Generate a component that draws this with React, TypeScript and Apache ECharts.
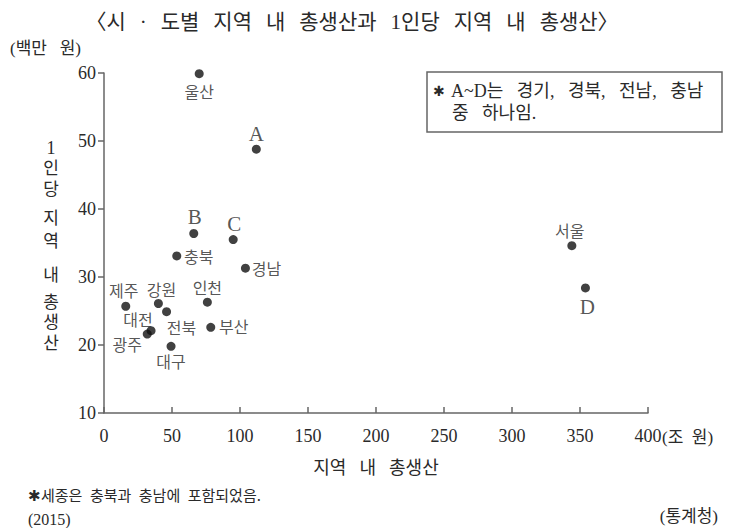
import React, { useEffect, useRef } from "react";
import * as echarts from "echarts";

const names = ["울산", "A", "B", "C", "충북", "경남", "서울", "D", "제주", "강원", "인천", "전북", "대전", "부산", "광주", "대구"];
const grdp = [70, 112, 66, 95, 53.5, 104, 344, 354, 16, 40, 76, 46, 34.6, 78.5, 31.8, 49.3];
const perCapita = [59.9, 48.8, 36.4, 35.5, 33.1, 31.3, 34.6, 28.4, 25.7, 26.1, 26.3, 24.9, 22.1, 22.6, 21.6, 19.8];
const xTicks = [0, 50, 100, 150, 200, 250, 300, 350, 400];
const yTicks = [10, 20, 30, 40, 50, 60];

// label placement (layout only): offset of label centre from its dot, in px
const labelOffset: Record<string, [number, number]> = {
  울산: [0, 17],
  A: [0, -15],
  B: [1, -16],
  C: [1, -16],
  충북: [22, 0],
  경남: [21, 0],
  서울: [-2, -16],
  D: [2, 19],
  제주: [-2, -16],
  강원: [3, -15],
  인천: [0, -15],
  전북: [15, 15],
  대전: [-13, -12],
  부산: [23, -1],
  광주: [-20, 10],
  대구: [0, 15],
};

const SERIF = "'Liberation Serif', 'Noto Sans CJK KR', serif";
const KR = "'Noto Sans CJK KR', sans-serif";
const INK = "#2a2a2a";
const AXIS = "#666";
const SP = "\u2002 ";
const wide = (s: string) => s.split(" ").join(SP);
const TSP = "\u2002\u2006";

const yNameChars = [
  { ch: "1", y: 148 },
  { ch: "인", y: 166 },
  { ch: "당", y: 187 },
  { ch: "지", y: 216 },
  { ch: "역", y: 239 },
  { ch: "내", y: 273 },
  { ch: "총", y: 300 },
  { ch: "생", y: 320 },
  { ch: "산", y: 341 },
];

export default function App() {
  const ref = useRef<HTMLDivElement>(null);
  useEffect(() => {
    if (!ref.current) return;
    const chart = echarts.init(ref.current, null, { renderer: "svg" });
    const data = names.map((n, i) => {
      const isLetter = /^[A-D]$/.test(n);
      return {
        value: [grdp[i], perCapita[i]],
        name: n,
        label: {
          show: true,
          formatter: n,
          position: ["50%", "50%"],
          offset: labelOffset[n],
          align: "center",
          verticalAlign: "middle",
          color: INK,
          fontFamily: isLetter ? SERIF : KR,
          fontSize: isLetter ? 21 : 16,
        },
      };
    });
    chart.setOption({
      animation: false,
      backgroundColor: "#fff",
      grid: { left: 104, right: 96, top: 73, bottom: 115, containLabel: false },
      xAxis: {
        type: "value",
        min: xTicks[0],
        max: xTicks[xTicks.length - 1],
        interval: 50,
        axisLine: { show: true, onZero: false, lineStyle: { color: AXIS, width: 1.5 } },
        axisTick: { show: true, inside: true, length: 6, lineStyle: { color: AXIS, width: 1.5 } },
        axisLabel: { color: INK, fontFamily: SERIF, fontSize: 18, margin: 14 },
        splitLine: { show: false },
      },
      yAxis: {
        type: "value",
        min: yTicks[0],
        max: yTicks[yTicks.length - 1],
        interval: 10,
        axisLine: { show: true, onZero: false, lineStyle: { color: AXIS, width: 1.5 } },
        axisTick: { show: true, inside: false, length: 6, lineStyle: { color: AXIS, width: 1.5 } },
        axisLabel: { color: INK, fontFamily: SERIF, fontSize: 18, margin: 8 },
        splitLine: { show: false },
      },
      series: [
        {
          type: "scatter",
          symbolSize: 9,
          itemStyle: { color: "#111" },
          data,
        },
      ],
      graphic: [
        {
          type: "text",
          x: 352,
          y: 22,
          style: {
            text: ["〈시", "·", "도별", "지역", "내", "총생산과", "1인당", "지역", "내", "총생산〉"].join(TSP),
            fill: INK,
            font: `21px ${SERIF}`,
            textAlign: "center",
            textVerticalAlign: "middle",
          },
        },
        {
          type: "text",
          x: 10,
          y: 48,
          style: { text: wide("(백만 원)"), fill: INK, font: `17px ${SERIF}`, textVerticalAlign: "middle" },
        },
        ...yNameChars.map((c) => ({
          type: "text",
          x: 51,
          y: c.y,
          style: {
            text: c.ch,
            fill: INK,
            font: c.ch === "1" ? `18px ${SERIF}` : `17px ${KR}`,
            textAlign: "center",
            textVerticalAlign: "middle",
          },
        })),
        {
          type: "text",
          x: 662,
          y: 437,
          style: { text: "(조\u2002원)", fill: INK, font: `17px ${SERIF}`, textVerticalAlign: "middle" },
        },
        {
          type: "text",
          x: 376,
          y: 466,
          style: { text: wide("지역 내 총생산"), fill: INK, font: `18px ${KR}`, textAlign: "center", textVerticalAlign: "middle" },
        },
        {
          type: "text",
          x: 28,
          y: 494,
          style: { text: "✱" + "세종은\u2002충북과\u2002충남에\u2002포함되었음.", fill: INK, font: `15px ${KR}`, textVerticalAlign: "middle" },
        },
        {
          type: "text",
          x: 28,
          y: 519,
          style: { text: "(2015)", fill: INK, font: `16px ${SERIF}`, textVerticalAlign: "middle" },
        },
        {
          type: "text",
          x: 718,
          y: 516,
          style: { text: "(통계청)", fill: INK, font: `17px ${SERIF}`, textAlign: "right", textVerticalAlign: "middle" },
        },
        {
          type: "rect",
          shape: { x: 427, y: 72, width: 295, height: 60 },
          style: { fill: "#fff", stroke: AXIS, lineWidth: 1.5 },
        },
        {
          type: "text",
          x: 433,
          y: 91,
          style: { text: "✱", fill: INK, font: `14px 'DejaVu Sans'`, textVerticalAlign: "middle" },
        },
        {
          type: "text",
          x: 451,
          y: 91,
          style: { text: wide("A~D는 경기, 경북, 전남, 충남"), fill: INK, font: `18px ${SERIF}`, textVerticalAlign: "middle" },
        },
        {
          type: "text",
          x: 452,
          y: 113,
          style: { text: wide("중 하나임."), fill: INK, font: `18px ${SERIF}`, textVerticalAlign: "middle" },
        },
      ],
    });
    return () => chart.dispose();
  }, []);
  return <div ref={ref} style={{ position: "absolute", left: 0, top: 0, width: 744, height: 528 }} />;
}
